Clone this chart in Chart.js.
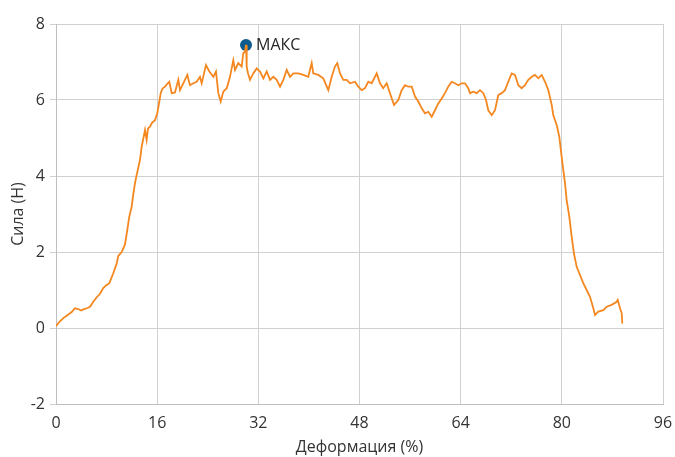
<!DOCTYPE html>
<html>
<head>
<meta charset="utf-8">
<script src="https://cdn.jsdelivr.net/npm/chart.js@4.4.1/dist/chart.umd.min.js"></script>
<style>
  html, body { margin: 0; padding: 0; background: #ffffff; }
  #wrap { width: 675px; height: 457px; }
</style>
</head>
<body>
<div id="wrap"><canvas id="c" width="675" height="457"></canvas></div>
<script>
// Деформация (%) — strain readings
const strain = [
  0, 0.47, 1.15, 1.74, 2.48, 3.0, 3.5, 4.0, 4.32, 4.9, 5.38, 5.9, 6.44, 6.96, 7.48, 7.91, 8.43, 9.06, 9.6, 9.85,
  10.39, 10.91, 11.28, 11.59, 11.97, 12.13, 12.49, 12.76, 13.28, 13.55, 14.08, 14.34, 14.55, 14.87, 15.18, 15.66,
  16.02, 16.34, 16.56, 16.84, 17.24, 17.56, 17.92, 18.3, 18.82, 19.34, 19.61, 20.13, 20.77, 21.19, 21.71, 22.25,
  22.77, 23.04, 23.41, 23.72, 24.25, 24.88, 25.3, 25.67, 26.05, 26.46, 27.0, 27.52, 28.04, 28.31, 28.83, 29.37,
  29.62, 29.89, 30.05, 30.16, 30.37, 30.68, 31.2, 31.74, 32.26, 32.79, 33.32, 33.85, 34.37, 34.91, 35.43, 35.95,
  36.49, 37.01, 37.53, 38.32, 39.11, 39.9, 40.44, 40.69, 41.48, 42.27, 43.07, 43.6, 44.12, 44.49, 44.92, 45.44,
  45.98, 46.5, 47.29, 47.81, 48.35, 48.87, 49.39, 49.93, 50.72, 51.24, 51.76, 52.3, 52.82, 53.46, 54.14, 54.67,
  55.2, 55.72, 56.26, 56.78, 57.3, 57.84, 58.36, 58.88, 59.42, 59.94, 60.46, 61.0, 61.52, 62.04, 62.58, 63.1,
  63.62, 64.16, 64.68, 65.2, 65.48, 66.0, 66.53, 67.06, 67.58, 68.01, 68.37, 68.91, 69.43, 69.95, 70.49, 71.01,
  71.53, 72.07, 72.59, 73.12, 73.65, 74.17, 74.7, 75.24, 75.75, 76.28, 76.82, 77.34, 77.86, 78.4, 78.65, 79.19,
  79.6, 79.97, 80.23, 80.5, 80.76, 81.18, 81.56, 81.92, 82.35, 82.76, 83.39, 83.93, 84.45, 84.98, 85.24, 85.77,
  86.56, 87.1, 87.88, 88.68, 88.84, 89.2, 89.47, 89.56
];
// Сила (Н) — force readings
const force = [
  0.05, 0.15, 0.26, 0.33, 0.42, 0.52, 0.50, 0.46, 0.49, 0.52, 0.56, 0.69, 0.81, 0.90, 1.05, 1.12, 1.18, 1.44, 1.70, 1.90,
  2.00, 2.20, 2.58, 2.93, 3.19, 3.41, 3.81, 4.03, 4.42, 4.77, 5.21, 4.95, 5.25, 5.30, 5.40, 5.47,
  5.65, 5.96, 6.18, 6.30, 6.35, 6.42, 6.48, 6.18, 6.20, 6.53, 6.26, 6.44, 6.66, 6.39, 6.44, 6.48,
  6.61, 6.44, 6.70, 6.92, 6.75, 6.61, 6.75, 6.18, 5.96, 6.22, 6.31, 6.61, 7.05, 6.79, 6.97, 6.88,
  7.23, 7.27, 7.45, 6.88, 6.70, 6.53, 6.70, 6.83, 6.75, 6.57, 6.75, 6.53, 6.61, 6.53, 6.35, 6.53,
  6.79, 6.61, 6.70, 6.70, 6.66, 6.61, 6.97, 6.70, 6.66, 6.57, 6.26, 6.61, 6.88, 6.97, 6.70, 6.53,
  6.53, 6.44, 6.48, 6.35, 6.26, 6.31, 6.48, 6.44, 6.70, 6.44, 6.31, 6.44, 6.18, 5.87, 6.00, 6.26,
  6.39, 6.35, 6.35, 6.09, 5.96, 5.78, 5.65, 5.69, 5.56, 5.73, 5.91, 6.04, 6.18, 6.35, 6.48, 6.44,
  6.39, 6.44, 6.44, 6.31, 6.18, 6.22, 6.18, 6.26, 6.18, 6.00, 5.73, 5.60, 5.73, 6.13, 6.18, 6.26,
  6.48, 6.70, 6.66, 6.39, 6.31, 6.39, 6.53, 6.61, 6.66, 6.57, 6.66, 6.48, 6.26, 5.87, 5.60, 5.34,
  5.03, 4.51, 4.16, 3.81, 3.37, 2.93, 2.40, 1.96, 1.61, 1.44, 1.18, 1.00, 0.82, 0.52, 0.34, 0.43,
  0.47, 0.56, 0.61, 0.69, 0.74, 0.52, 0.39, 0.12
];
// Maximum-force marker
const peakStrain = [30.05];
const peakForce = [7.45];
const peakLabels = ['МАКС'];

const xTicks = [0, 16, 32, 48, 64, 80, 96];
const yTicks = [-2, 0, 2, 4, 6, 8];

const FONT = '"Open Sans", "Noto Sans", sans-serif';
const TEXT = '#333333';

const curve = strain.map((x, i) => ({ x, y: force[i] }));
const peak = peakStrain.map((x, i) => ({ x, y: peakForce[i] }));

const peakLabelPlugin = {
  id: 'peakLabel',
  afterDatasetsDraw(chart) {
    const meta = chart.getDatasetMeta(1);
    const ctx = chart.ctx;
    ctx.save();
    ctx.font = '16px ' + FONT;
    ctx.fillStyle = '#262626';
    ctx.textAlign = 'left';
    ctx.textBaseline = 'middle';
    meta.data.forEach((pt, i) => {
      ctx.fillText(peakLabels[i], pt.x + 10, pt.y + 1);
    });
    ctx.restore();
  }
};

new Chart(document.getElementById('c'), {
  type: 'line',
  data: {
    datasets: [
      {
        data: curve,
        borderColor: '#f4871f',
        borderWidth: 1.8,
        pointRadius: 0,
        tension: 0,
        fill: false
      },
      {
        data: peak,
        showLine: false,
        pointRadius: 6,
        pointBackgroundColor: '#0c5b8c',
        pointBorderColor: '#0c5b8c',
        pointBorderWidth: 0
      }
    ]
  },
  options: {
    responsive: false,
    animation: false,
    layout: { padding: { left: 9, right: 12, top: 24, bottom: 0 } },
    plugins: { legend: { display: false }, tooltip: { enabled: false } },
    scales: {
      x: {
        type: 'linear',
        min: 0,
        max: 96,
        afterBuildTicks(scale) { scale.ticks = xTicks.map(v => ({ value: v })); },
        afterFit(scale) {
          scale.height = 53;
          scale.paddingLeft = 0;
          scale.paddingRight = 0;
        },
        grid: { color: '#d0d0d0', lineWidth: 1, drawTicks: false },
        border: { color: '#bfbfbf' },
        ticks: { color: TEXT, font: { family: FONT, size: 16 }, padding: 10, maxRotation: 0 },
        title: { display: true, text: 'Деформация (%)', color: TEXT, font: { family: FONT, size: 16 }, padding: { top: 0, bottom: 0 } }
      },
      y: {
        type: 'linear',
        min: -2,
        max: 8,
        afterBuildTicks(scale) { scale.ticks = yTicks.map(v => ({ value: v })); },
        afterFit(scale) { scale.width = 47; },
        grid: { color: '#d0d0d0', lineWidth: 1, tickLength: 6 },
        border: { color: '#bfbfbf' },
        ticks: { color: TEXT, font: { family: FONT, size: 16 }, padding: 5 },
        title: { display: true, text: 'Сила (Н)', color: TEXT, font: { family: FONT, size: 16 }, padding: { top: 0, bottom: 0 } }
      }
    }
  },
  plugins: [peakLabelPlugin]
});
</script>
</body>
</html>
